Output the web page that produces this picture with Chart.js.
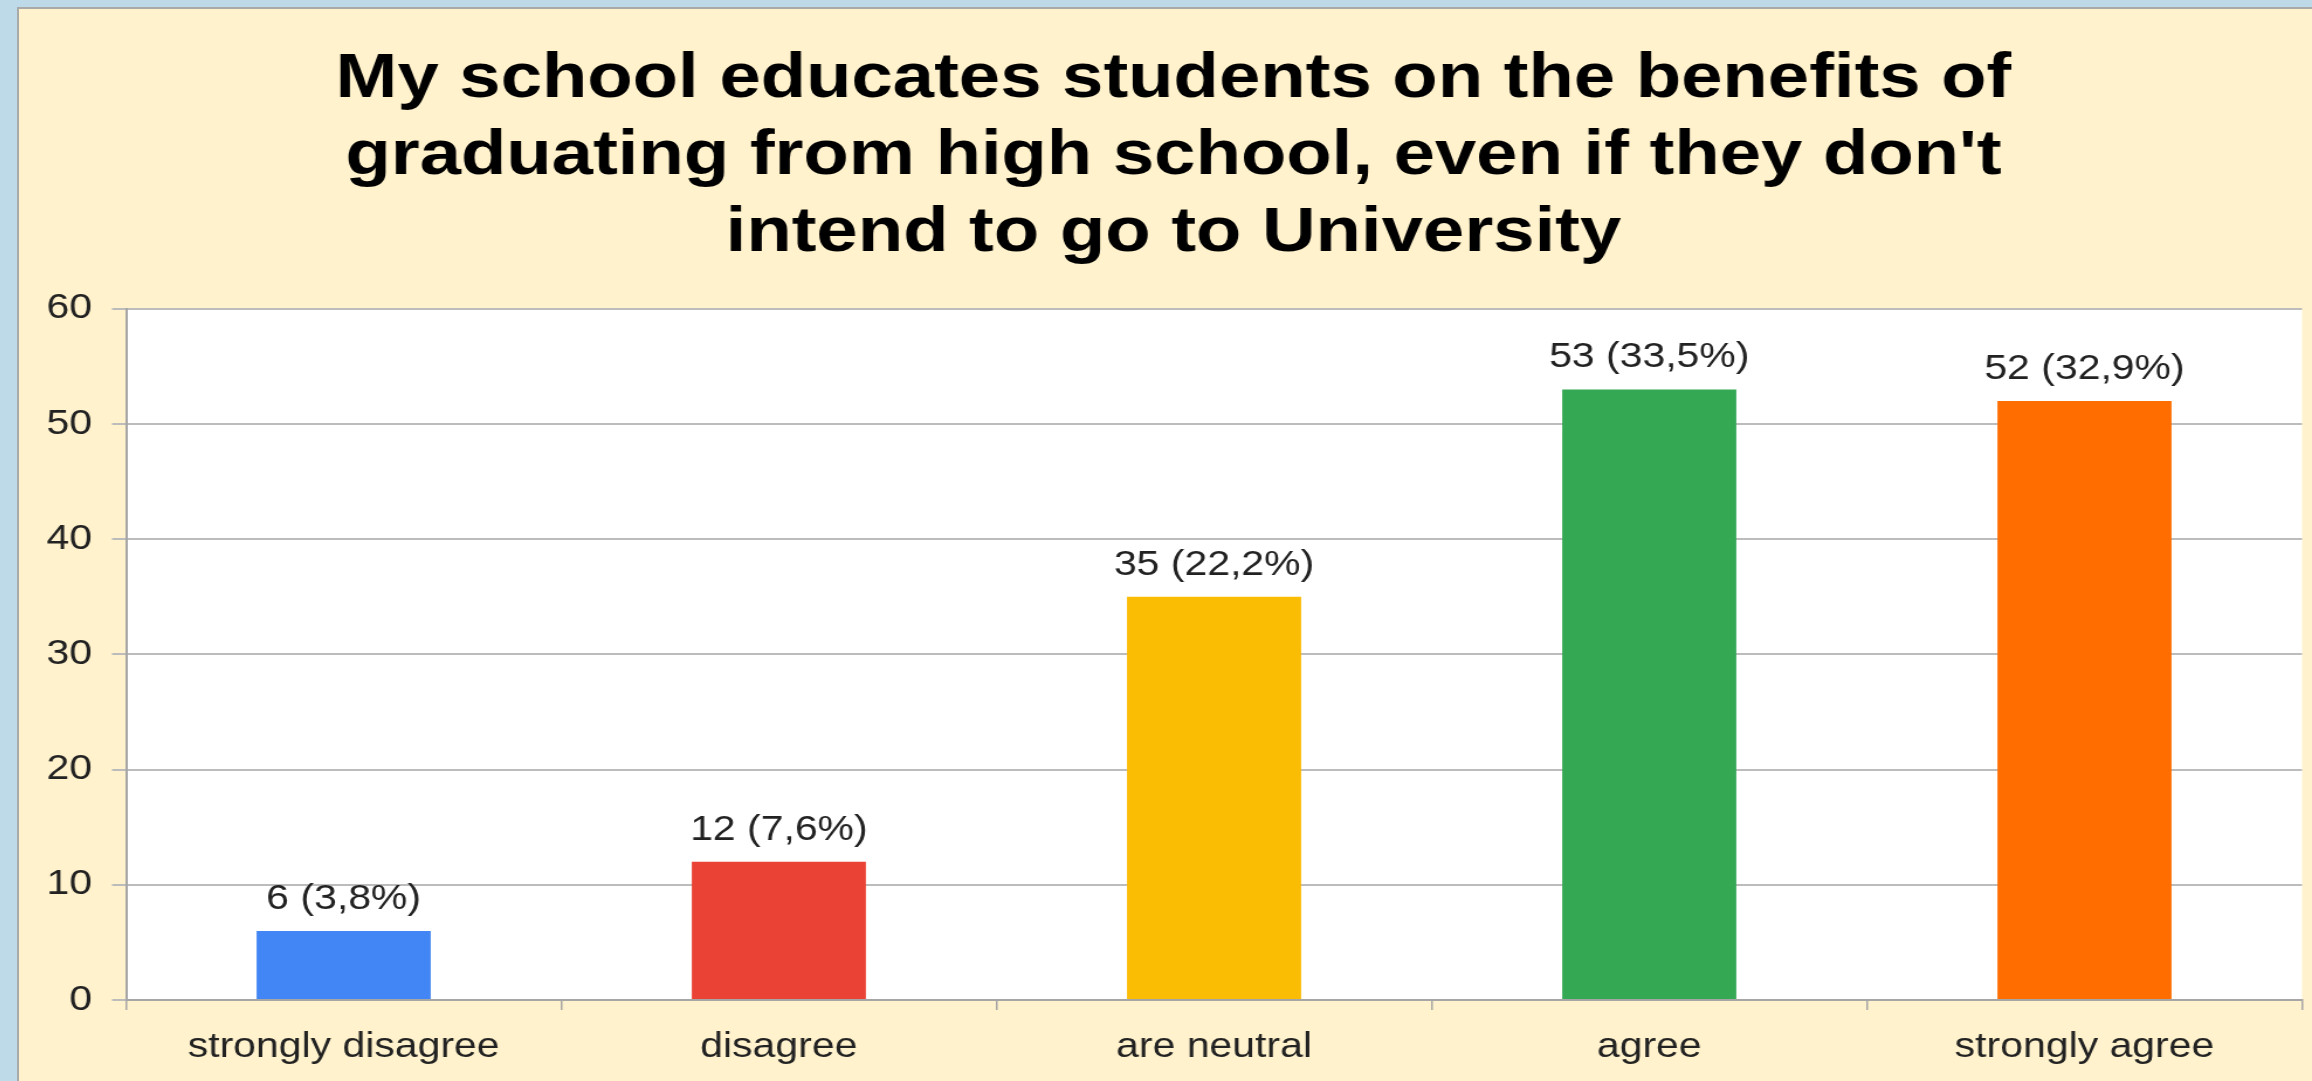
<!DOCTYPE html>
<html>
<head>
<meta charset="utf-8">
<title>My school educates students on the benefits of graduating from high school</title>
<script src="https://cdn.jsdelivr.net/npm/chart.js@4.4.1/dist/chart.umd.min.js"></script>
<style>
  html, body { margin: 0; padding: 0; background: #bed9e8; overflow: hidden; }
  body { width: 2312px; height: 1081px; position: relative; }
  .panel {
    position: absolute; left: 17px; top: 7px; right: 0; bottom: 0;
    background: #fff2cc;
    border-left: 2px solid #a9a9a9; border-top: 2px solid #a9a9a9;
  }
  #survey { display: block; }
</style>
</head>
<body>
<!-- backing store is narrower than the box, so the whole chart is drawn a bit wide -->
<div class="panel"><canvas id="survey" width="1960" height="1072" style="width:2293px;height:1072px"></canvas></div>
<script>
// survey answers
const answers = ['strongly disagree', 'disagree', 'are neutral', 'agree', 'strongly agree'];
const counts = [6, 12, 35, 53, 52];
const barColors = ['#4285f4', '#ea4335', '#fbbc04', '#34a853', '#ff6d01'];
const yTicks = [0, 10, 20, 30, 40, 50, 60];
const titleLines = [
  'My school educates students on the benefits of',
  "graduating from high school, even if they don't",
  'intend to go to University'
];

const total = counts.reduce((a, b) => a + b, 0);
const pct = v => (v / total * 100).toFixed(1).replace('.', ',');

const FONT = '"Liberation Sans", Arial, Helvetica, sans-serif';
Chart.defaults.font.family = FONT;

// white plot background
const plotBg = {
  id: 'plotBg',
  beforeDraw(chart) {
    const { ctx, chartArea: a } = chart;
    ctx.save();
    ctx.fillStyle = '#ffffff';
    ctx.fillRect(a.left, a.top, a.right - a.left, a.bottom - a.top);
    ctx.restore();
  }
};

// "count (percent%)" above each bar
const valueLabels = {
  id: 'valueLabels',
  afterDatasetsDraw(chart) {
    const { ctx } = chart;
    const meta = chart.getDatasetMeta(0);
    ctx.save();
    ctx.font = `35px ${FONT}`;
    ctx.fillStyle = '#222222';
    ctx.textAlign = 'center';
    ctx.textBaseline = 'alphabetic';
    meta.data.forEach((bar, i) => {
      const v = counts[i];
      ctx.fillText(`${v} (${pct(v)}%)`, bar.x, bar.y - 22);
    });
    ctx.restore();
  }
};

new Chart(document.getElementById('survey'), {
  type: 'bar',
  data: {
    labels: answers,
    datasets: [{
      data: counts,
      backgroundColor: barColors,
      borderWidth: 0,
      categoryPercentage: 1,
      barPercentage: 0.4
    }]
  },
  options: {
    responsive: false,
    devicePixelRatio: 1,
    animation: false,
    layout: { padding: { left: 22, right: 8.5, top: 0, bottom: 0 } },
    plugins: {
      legend: { display: false },
      tooltip: { enabled: false },
      title: {
        display: true,
        text: titleLines,
        color: '#000000',
        font: { size: 63.5, weight: 'bold', lineHeight: 1.21 },
        padding: { top: 32.5, bottom: 36.8 }
      }
    },
    scales: {
      x: {
        afterFit(scale) { scale.height = 81; },
        grid: {
          offset: true,
          drawOnChartArea: false,
          drawTicks: true,
          tickLength: 10,
          color: '#a6a6a6',
          lineWidth: 1.5
        },
        border: { display: true, color: '#a6a6a6', width: 2 },
        ticks: { color: '#222222', font: { size: 35 }, padding: 16, maxRotation: 0 }
      },
      y: {
        min: yTicks[0],
        max: yTicks[yTicks.length - 1],
        afterFit(scale) { scale.width = 69.5; },
        afterBuildTicks(scale) { scale.ticks = yTicks.map(v => ({ value: v })); },
        grid: { color: '#bcbcbc', lineWidth: 2, tickLength: 12 },
        border: { display: true, color: '#a6a6a6', width: 2 },
        ticks: { color: '#222222', font: { size: 35 }, padding: 17 }
      }
    }
  },
  plugins: [plotBg, valueLabels]
});
</script>
</body>
</html>
